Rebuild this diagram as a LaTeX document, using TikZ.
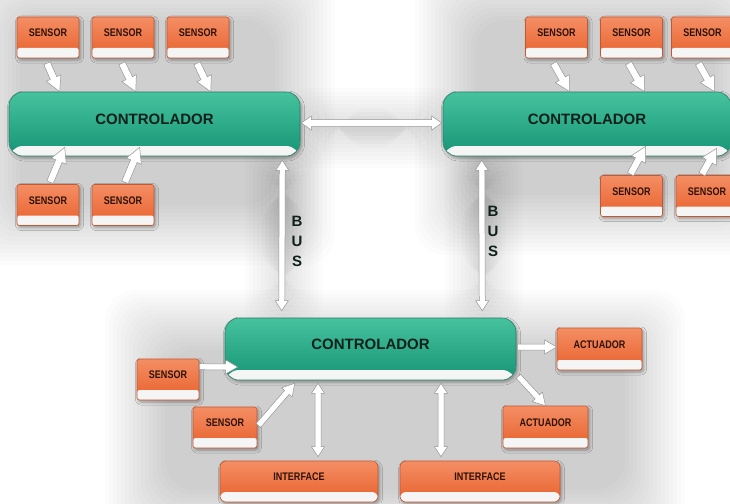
\documentclass[tikz,border=0pt]{standalone}
\usepackage{fontspec}
\setmainfont{Liberation Sans}
\newfontfamily\narrowfont{Liberation Sans}[FakeStretch=0.82]
\usetikzlibrary{calc,shadows.blur}

\definecolor{orTop}{RGB}{244,142,100}
\definecolor{orBot}{RGB}{232,96,44}
\definecolor{orLine}{RGB}{196,88,50}
\definecolor{grTop}{RGB}{70,194,158}
\definecolor{grBot}{RGB}{22,148,116}
\definecolor{grLine}{RGB}{38,128,104}
\definecolor{stripC}{RGB}{244,245,244}
\definecolor{txtDark}{RGB}{45,18,8}
\definecolor{ctlTxt}{RGB}{14,32,26}
\definecolor{arrowLine}{RGB}{150,150,150}

\tikzset{
  halo/.style={blur shadow={shadow xshift=1.5pt, shadow yshift=-2pt,
      shadow blur radius=3pt, shadow opacity=35}},
  stripbox/.style={path picture={
      \fill[stripC] ($(path picture bounding box.south west)+(0,-#1)$)
        rectangle (path picture bounding box.south east);}},
  unitbox/.style={rectangle, rounded corners=2.5pt, draw=orLine, line width=0.6pt,
      top color=orTop, bottom color=orBot, minimum height=41pt, text=txtDark,
      font=\narrowfont\bfseries\fontsize{11}{12}\selectfont,
      text height=8pt, text depth=10pt, inner sep=0pt, stripbox=10, halo},
  sensorbox/.style={unitbox, minimum width=62pt},
  actbox/.style={unitbox, minimum width=85pt, minimum height=42pt},
  ifacebox/.style={unitbox, minimum width=158pt, rounded corners=6pt},
  ctlbox/.style={rectangle, rounded corners=14pt, draw=grLine, line width=0.6pt,
      top color=grTop, bottom color=grBot, minimum height=64pt, text=ctlTxt,
      font=\bfseries\fontsize{15}{18}\selectfont,
      text height=10.7pt, text depth=10pt, inner sep=0pt, stripbox=10, halo},
  buslabel/.style={align=center, text=ctlTxt, inner sep=0pt,
      font=\bfseries\fontsize{15}{20}\selectfont},
  blockarrow/.style={fill=white, draw=arrowLine, line width=0.5pt, line join=miter},
}

% soft grey backdrop: nested translucent rounded rectangles
\newcommand{\haze}[2]{%
  \foreach \k in {0,...,15} {%
    \fill[black, opacity=0.012, rounded corners=30pt]
      ($(#1)+(\k*4,\k*4)$) rectangle ($(#2)-(\k*4,\k*4)$);}}

% single block arrow: tail, tip, shaft half-width, head half-width, head length
\newcommand{\blockarrow}[5]{%
  \coordinate (ba-s) at (#1);
  \coordinate (ba-e) at (#2);
  \coordinate (ba-n) at ($(ba-e)!#5!(ba-s)$);
  \draw[blockarrow] ($(ba-s)!#3!90:(ba-e)$) -- ($(ba-n)!#3!90:(ba-e)$)
    -- ($(ba-n)!#4!90:(ba-e)$) -- (ba-e) -- ($(ba-n)!#4!-90:(ba-e)$)
    -- ($(ba-n)!#3!-90:(ba-e)$) -- ($(ba-s)!#3!-90:(ba-e)$) -- cycle;}

% double-headed block arrow, same arguments
\newcommand{\dblockarrow}[5]{%
  \coordinate (ba-s) at (#1);
  \coordinate (ba-e) at (#2);
  \coordinate (ba-n) at ($(ba-e)!#5!(ba-s)$);
  \coordinate (ba-m) at ($(ba-s)!#5!(ba-e)$);
  \draw[blockarrow] (ba-s) -- ($(ba-m)!#4!90:(ba-e)$) -- ($(ba-m)!#3!90:(ba-e)$)
    -- ($(ba-n)!#3!90:(ba-e)$) -- ($(ba-n)!#4!90:(ba-e)$) -- (ba-e)
    -- ($(ba-n)!#4!-90:(ba-e)$) -- ($(ba-n)!#3!-90:(ba-e)$)
    -- ($(ba-m)!#3!-90:(ba-e)$) -- ($(ba-m)!#4!-90:(ba-e)$) -- cycle;}

\begin{document}
\begin{tikzpicture}[x=1pt, y=-1pt]
\fill[white] (0,0) rectangle (730,503);
\useasboundingbox (0,0) rectangle (730,503);

% backdrop
\haze{-40,-40}{335,265}
\haze{415,-40}{775,255}
\haze{105,290}{685,550}
\haze{245,135}{322,335}
\haze{445,135}{522,335}
\haze{280,88}{465,168}

% controllers
\node[ctlbox, minimum width=291pt] (c1) at (154.5,124) {CONTROLADOR};
\node[ctlbox, minimum width=288pt] (c2) at (587,124) {CONTROLADOR};
\node[ctlbox, minimum width=291pt, minimum height=62pt] (c3) at (370.5,349) {CONTROLADOR};

% sensors around the upper-left controller
\node[sensorbox] (s1) at (48,37.5) {SENSOR};
\node[sensorbox] (s2) at (123,37.5) {SENSOR};
\node[sensorbox] (s3) at (198,37.5) {SENSOR};
\node[sensorbox] (s4) at (48,205) {SENSOR};
\node[sensorbox] (s5) at (123,205) {SENSOR};

% sensors around the upper-right controller
\node[sensorbox] (s6) at (556.5,37.5) {SENSOR};
\node[sensorbox] (s7) at (631.5,37.5) {SENSOR};
\node[sensorbox] (s8) at (702.5,37.5) {SENSOR};
\node[sensorbox] (s9) at (631.5,196) {SENSOR};
\node[sensorbox] (s10) at (707,196) {SENSOR};

% devices around the lower controller
\node[sensorbox] (s11) at (168,379.5) {SENSOR};
\node[sensorbox, minimum width=64pt] (s12) at (225,427.5) {SENSOR};
\node[actbox] (a1) at (599.5,349) {ACTUADOR};
\node[actbox] (a2) at (545.5,427) {ACTUADOR};
\node[ifacebox] (i1) at (299,481.5) {INTERFACE};
\node[ifacebox, minimum width=160pt] (i2) at (480,481.5) {INTERFACE};

% bus labels
\node[buslabel] (b1) at (297,241) {B\\U\\S};
\node[buslabel] (b2) at (493,231) {B\\U\\S};

% bus links
\dblockarrow{$(c1.east)+(1,-1)$}{$(c2.west)+(-1,-1)$}{3.5pt}{7pt}{10pt}
\dblockarrow{$(c1.south east)+(-18,4)$}{$(c3.north west)+(57,-7)$}{3pt}{6.5pt}{10pt}
\dblockarrow{$(c2.south west)+(39,4)$}{$(c3.north east)+(-34,-7)$}{3pt}{6.5pt}{10pt}

% sensor inputs, upper-left
\blockarrow{$(s1.south)+(-1,5)$}{$(c1.north west)+(51,0)$}{3.5pt}{8pt}{15pt}
\blockarrow{$(s2.south)+(-1,5)$}{$(c1.north west)+(127,0)$}{3.5pt}{8pt}{15pt}
\blockarrow{$(s3.south)+(-1,5)$}{$(c1.north west)+(202,0)$}{3.5pt}{8pt}{15pt}
\blockarrow{$(s4.north)+(2,-2)$}{$(c1.south west)+(56,-9)$}{3.5pt}{8pt}{15pt}
\blockarrow{$(s5.north)+(2,-2)$}{$(c1.south west)+(131,-9)$}{3.5pt}{8pt}{15pt}

% sensor inputs, upper-right
\blockarrow{$(s6.south)+(-3,5)$}{$(c2.north west)+(127,0)$}{3.5pt}{8pt}{15pt}
\blockarrow{$(s7.south)+(-3,5)$}{$(c2.north west)+(202,0)$}{3.5pt}{8pt}{15pt}
\blockarrow{$(s8.south)+(-4,5)$}{$(c2.north west)+(272,0)$}{3.5pt}{8pt}{15pt}
\blockarrow{$(s9.north)+(-1,-1)$}{$(c2.south west)+(203,-10)$}{3.5pt}{8pt}{15pt}
\blockarrow{$(s10.north)+(-5,-1)$}{$(c2.south west)+(274,-8)$}{3.5pt}{8pt}{15pt}

% lower controller links
\blockarrow{$(s11.north east)+(0,8)$}{$(c3.west)+(13,18)$}{3pt}{7pt}{12pt}
\blockarrow{$(s12.east)+(1,-2)$}{$(c3.south west)+(70,3)$}{3pt}{7pt}{12pt}
\blockarrow{$(c3.east)+(1,-2)$}{$(a1.west)+(0,-2)$}{3pt}{7pt}{12pt}
\blockarrow{$(c3.south east)+(2,-4)$}{a2.north}{3pt}{7pt}{12pt}
\dblockarrow{$(c3.south)+(-52.5,3)$}{$(i1.north)+(19,-4)$}{3pt}{6.5pt}{10pt}
\dblockarrow{$(c3.south)+(70.5,3)$}{$(i2.north)+(-39,-4)$}{3pt}{6.5pt}{10pt}
\end{tikzpicture}
\end{document}
